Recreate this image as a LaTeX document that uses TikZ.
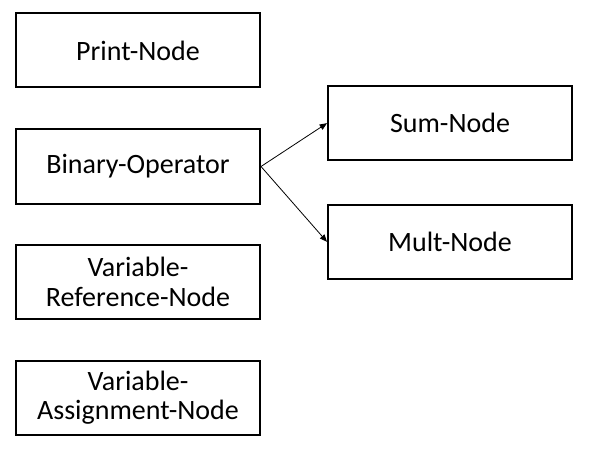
\documentclass[tikz,border=0pt]{standalone}
\usepackage{fontspec}
\setmainfont{Carlito}
\usetikzlibrary{positioning, arrows.meta}

\begin{document}
\begin{tikzpicture}[
    x=0.75pt, y=-0.75pt,
    box/.style={draw, line width=1.5pt, minimum width=183pt,
                minimum height=55.5pt, align=center, inner sep=1pt,
                font=\fontsize{21pt}{22pt}\selectfont},
    link/.style={-{Triangle[length=5.5pt, width=4.5pt]}, line width=0.6pt}
  ]
    \useasboundingbox (0,0) rectangle (598,452);
    \node[box] at (138,50.5)          (print) {Print-Node};
    \node[box, below=30pt of print]   (bin)   {Binary-Operator};
    \node[box, below=29.5pt of bin]   (vref)  {Variable-\\Reference-Node};
    \node[box, below=30pt of vref]    (vasg)  {Variable-\\Assignment-Node};
    \node[box, right=49.5pt of bin, yshift=32.5pt] (sum)  {Sum-Node};
    \node[box, below=32pt of sum]     (mult)  {Mult-Node};
    % Operator subtypes
    \draw[link] (bin.east) -- (sum.west);
    \draw[link] (bin.east) -- (mult.west);
\end{tikzpicture}
\end{document}
